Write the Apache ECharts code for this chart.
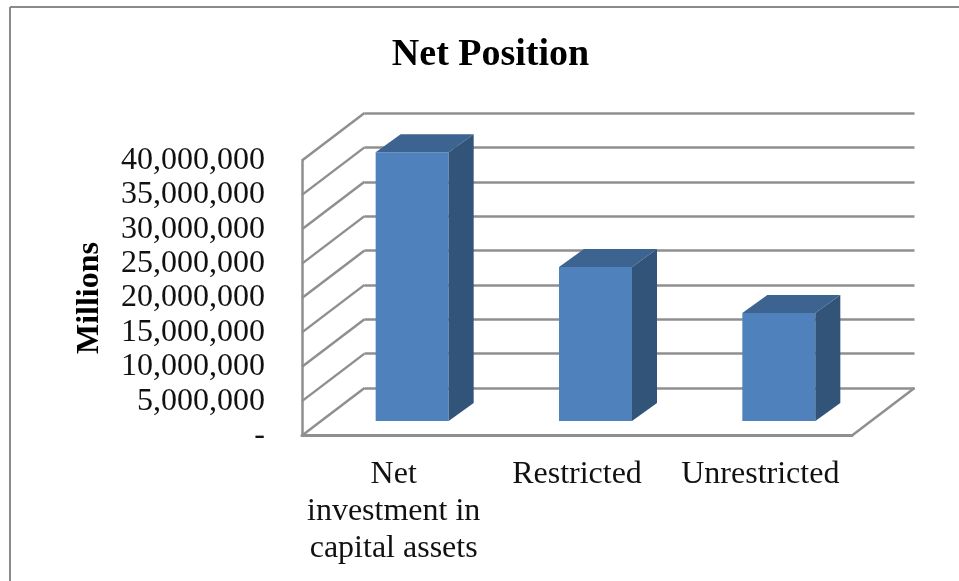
<!DOCTYPE html>
<html>
<head>
<meta charset="utf-8">
<title>Net Position</title>
<style>
html, body { margin: 0; padding: 0; background: #fff; }
#chart { width: 959px; height: 581px; }
</style>
<script src="https://cdn.jsdelivr.net/npm/echarts@6/dist/echarts.min.js"></script>
</head>
<body>
<div id="chart"></div>
<script>
var categories = ['Net\ninvestment in\ncapital assets', 'Restricted', 'Unrestricted']
var netPosition = [39100000, 22400000, 15700000]
var wallTicks = [0, 5000000, 10000000, 15000000, 20000000, 25000000, 30000000, 35000000, 40000000]

var FONT = '"Liberation Serif", "Times New Roman", serif'
var LINE = '#8f8f8f'
// depth of the fake 3d box, in pixels
var WALL = [62.5, -47.5]
var BAR_DEPTH = [25, -18]
var BAR_SHIFT = [18.5, -14.5]
var BAR_WIDTH = 73

// diagonal lines on the side wall and the floor
function renderWall (params, api) {
  var band = api.size([1, 0])[0]
  var p = api.coord([0, api.value(1)])
  var isFloorEnd = api.value(2) === 1
  var x = isFloorEnd ? p[0] + band * 2.5 : p[0] - band / 2
  return {
    type: 'line',
    shape: { x1: x, y1: p[1], x2: x + WALL[0], y2: p[1] + WALL[1] },
    style: { stroke: LINE, lineWidth: 2.5, fill: null }
  }
}

function renderBar (params, api) {
  var top = api.coord([api.value(0), api.value(1)])
  var base = api.coord([api.value(0), 0])
  var x0 = top[0] + BAR_SHIFT[0] - BAR_WIDTH / 2
  var x1 = x0 + BAR_WIDTH
  var yt = top[1] + BAR_SHIFT[1]
  var yb = base[1] + BAR_SHIFT[1]
  var dx = BAR_DEPTH[0]
  var dy = BAR_DEPTH[1]
  return {
    type: 'group',
    children: [
      {
        type: 'rect',
        shape: { x: x0, y: yt, width: BAR_WIDTH, height: yb - yt },
        style: { fill: '#4f81bd' }
      },
      {
        type: 'polygon',
        shape: { points: [[x1, yt], [x1 + dx, yt + dy], [x1 + dx, yb + dy], [x1, yb]] },
        style: { fill: '#325479' }
      },
      {
        type: 'polygon',
        shape: { points: [[x0, yt], [x0 + dx, yt + dy], [x1 + dx, yt + dy], [x1, yt]] },
        style: { fill: '#3d6390' }
      }
    ]
  }
}

var chart = echarts.init(document.getElementById('chart'), null, { renderer: 'canvas' })
var wallData = wallTicks.map(function (v) { return [0, v, 0] })
wallData.push([0, 0, 1])

chart.setOption({
  animation: false,
  backgroundColor: '#fff',
  textStyle: { fontFamily: FONT },
  title: {
    text: 'Net Position',
    left: 485.5,
    top: 31,
    textAlign: 'center',
    textStyle: { fontFamily: FONT, fontSize: 38, fontWeight: 'bold', color: '#000' }
  },
  grid: [
    { left: 302, top: 160.5, width: 550, height: 275 },
    { left: 364.5, top: 113, width: 550, height: 275 }
  ],
  xAxis: [
    {
      type: 'category',
      data: categories,
      gridIndex: 0,
      axisLine: { lineStyle: { color: LINE, width: 3 } },
      axisTick: { show: false },
      axisLabel: {
        interval: 0,
        margin: 21,
        fontFamily: FONT,
        fontSize: 32,
        lineHeight: 37,
        color: '#111'
      }
    },
    {
      type: 'category',
      data: categories,
      gridIndex: 1,
      show: false
    }
  ],
  yAxis: [
    {
      type: 'value',
      gridIndex: 0,
      min: 0,
      max: 40000000,
      interval: 5000000,
      name: 'Millions',
      nameLocation: 'middle',
      nameGap: 196,
      nameTextStyle: { fontFamily: FONT, fontSize: 32, fontWeight: 'bold', color: '#000' },
      axisLine: { show: true, lineStyle: { color: LINE, width: 2.5 } },
      axisTick: { show: false },
      splitLine: { show: false },
      axisLabel: {
        margin: 37,
        fontFamily: FONT,
        fontSize: 32,
        padding: [5, 0, 0, 0],
        color: '#111',
        formatter: function (v) {
          return v === 0 ? '-' : v.toLocaleString('en-US')
        }
      }
    },
    {
      type: 'value',
      gridIndex: 1,
      min: 0,
      max: 40000000,
      interval: 5000000,
      axisLine: { show: false },
      axisTick: { show: false },
      axisLabel: { show: false },
      splitLine: { show: true, lineStyle: { color: LINE, width: 2.5 } }
    }
  ],
  series: [
    {
      type: 'custom',
      name: 'walls',
      silent: true,
      z: 1,
      xAxisIndex: 0,
      yAxisIndex: 0,
      renderItem: renderWall,
      encode: { x: 0, y: 1 },
      data: wallData,
      clip: false
    },
    {
      type: 'custom',
      name: 'Net Position',
      z: 3,
      xAxisIndex: 0,
      yAxisIndex: 0,
      renderItem: renderBar,
      encode: { x: 0, y: 1 },
      data: netPosition.map(function (v, i) { return [i, v] }),
      clip: false
    }
  ],
  graphic: [
    // frame of the chart area, only top and left are in the picture
    { type: 'line', silent: true, shape: { x1: 10, y1: 7, x2: 959, y2: 7 }, style: { stroke: '#8a8a8a', lineWidth: 2 } },
    { type: 'line', silent: true, shape: { x1: 10, y1: 7, x2: 10, y2: 581 }, style: { stroke: '#8a8a8a', lineWidth: 2 } }
  ]
})
</script>
</body>
</html>
